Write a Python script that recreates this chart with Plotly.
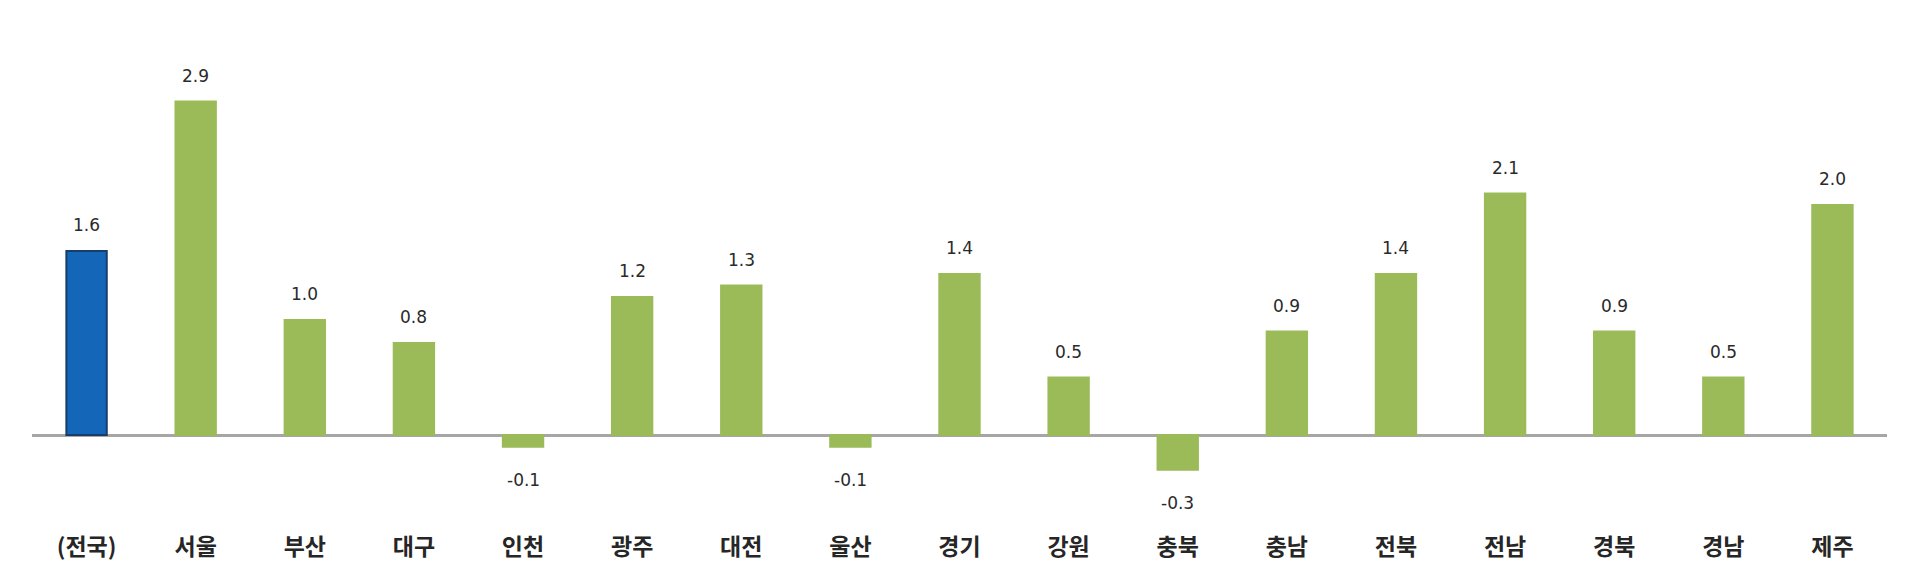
import plotly.graph_objects as go

regions = ["(전국)", "서울", "부산", "대구", "인천", "광주", "대전", "울산", "경기",
           "강원", "충북", "충남", "전북", "전남", "경북", "경남", "제주"]
values = [1.6, 2.9, 1.0, 0.8, -0.1, 1.2, 1.3, -0.1, 1.4,
          0.5, -0.3, 0.9, 1.4, 2.1, 0.9, 0.5, 2.0]

colors = ["#1467B8"] + ["#9BBB59"] * (len(regions) - 1)
line_colors = ["#173E6B"] + ["#9BBB59"] * (len(regions) - 1)

fig = go.Figure()
fig.add_trace(go.Bar(x=regions, y=values,
                     marker=dict(color=colors, line=dict(color=line_colors, width=2)),
                     hoverinfo="x+y"))

# value labels above / below bars
for r, v in zip(regions, values):
    fig.add_annotation(x=r, y=v, text=f"{v:.1f}", showarrow=False,
                       yshift=26 if v >= 0 else -33,
                       font=dict(family="DejaVu Sans", size=17, color="#2a2a2a"))

fig.update_layout(
    width=1920, height=587,
    margin=dict(l=24, r=41, t=13, b=69),
    plot_bgcolor="white", paper_bgcolor="white",
    bargap=0.63, showlegend=False,
    xaxis=dict(showline=False, showgrid=False, ticks="", ticklabelstandoff=5,
               tickfont=dict(family="Noto Sans CJK KR", size=23, color="#262626",
                             weight="bold")),
    yaxis=dict(range=[-0.79, 3.6], showgrid=False, showticklabels=False,
               zeroline=True, zerolinecolor="#A6A6A6", zerolinewidth=3),
)

fig.write_html("out.html")
